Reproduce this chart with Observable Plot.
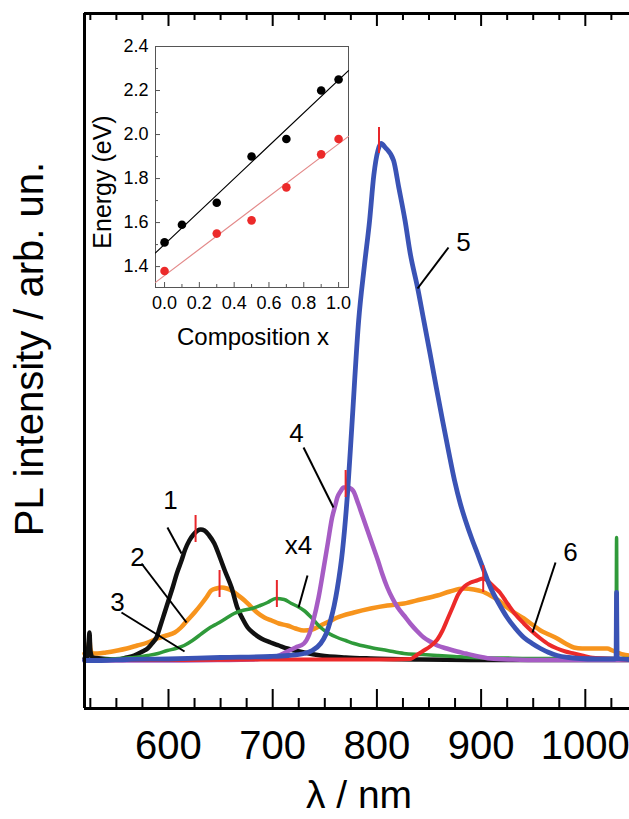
<!DOCTYPE html>
<html><head><meta charset="utf-8">
<script src="https://cdn.jsdelivr.net/npm/d3@7"></script>
<script src="https://cdn.jsdelivr.net/npm/@observablehq/plot@0.6"></script>
<style>
html,body{margin:0;padding:0;background:#fff;overflow:hidden}
#wrap{position:relative;width:629px;height:819px;overflow:hidden}
#wrap svg{position:absolute;left:0;top:0}
</style></head><body><div id="wrap"></div>
<script>
const FONT = "'Liberation Sans', Arial, Helvetica, sans-serif";

// ---- main chart: PL spectra, [wavelength nm, intensity arb. un.] ----
const spec1 = [[519.4,2],[522,2],[523.5,20],[524.2,28],[525,10],[527,3],[535,2],[551,1],[560,3],[567,5],[575,9],[580,12],[585,18],[588.5,23],[592,34],[596,47],[600,60],[604,73],[608,87],[612.5,100],[616,111],[620,120],[624,126],[628,130],[631,131],[634.5,130],[639,125],[644,117],[649,104],[654,90],[660.5,73],[666,53],[671,42],[676,33],[682,27],[689,22],[698,18],[706,15],[714,12],[730,8],[746,5],[770,3],[794,2],[842,1],[900,0.5],[1042.4,0.5]];
const spec2 = [[519.4,7],[522,8],[523.5,16],[524.2,20],[525,12],[527,7],[532,7],[540,8],[551,10],[560,12],[570,15],[580,18],[589,22],[598,25],[606,28],[612,33],[618,40],[625,48],[632,57],[637,64],[641,70],[646,72],[651,73],[656,72],[660.5,70],[667,65],[673,60],[679,54],[685,48],[692,43],[699,40],[706,37],[714,35],[722,32],[730,30],[738,31],[746,35],[754,39],[762,43],[778,48],[794,52],[810,55],[826,57],[842,61],[858,65],[870,69],[883,72],[893,71],[901,69],[909,65],[917,60],[925,53],[933,47],[941,42],[949,36],[957,30],[965,26],[973,22],[981,17],[989,13],[997,12],[1005,12],[1013,12],[1021,12],[1026,10],[1031,8],[1036,6],[1042.4,5]];
const spec3 = [[519.4,0],[530,0.5],[545,1.5],[560,2.5],[567,3],[580,5],[590,7],[599,10],[607,12],[615,15],[623,20],[632,27],[640,33],[647,37],[655,42],[663,47],[671,50],[680,52],[688,55],[695,58],[703,62],[711,61],[718,57],[724,54],[730,50],[738,42],[746,33],[754,27],[762,23],[770,20],[778,17],[794,13],[810,10],[826,7],[842,6],[858,5],[874,4],[890,3],[920,2.5],[960,2],[1000,2],[1028,2],[1029.5,2],[1030,123],[1030.5,2],[1042.4,2]];
const spec4 = [[519.4,0],[600,0],[650,0.5],[679,1],[690,2],[698,3],[706,5],[714,9],[722,13],[730,17],[735,26],[739,40],[744,63],[749,93],[753,118],[757,143],[760,155],[762,163],[765,169],[768,173],[772,173],[777,170],[782,157],[786,145],[791,130],[796,115],[801,100],[805,87],[810,73],[815,62],[820,53],[826,45],[832,37],[838,30],[845,23],[851,19],[858,15],[867,12],[877,9],[885,7],[893,5],[909,2],[930,1],[960,0.5],[1042.4,0.5]];
const spec5 = [[519.4,0],[535,0],[560,1],[600,1.5],[650,3],[698,4],[715,5],[730,7],[738,10],[746,17],[751,26],[755.5,40],[759,55],[762,72],[767,110],[772,170],[776,235],[782.5,340],[788,395],[793,440],[797,485],[801,510],[804,517],[808,513],[816,500],[821,473],[827,440],[832,407],[839,373],[845,340],[851,307],[857,273],[863,240],[869,208],[874.5,180],[880,157],[885,140],[891,122],[896.5,107],[903,89],[909,73],[917,57],[925,43],[933,32],[941,23],[949,17],[957,12],[965,8],[973,5],[984,3],[995,2],[1010,1.5],[1028,1.5],[1029.5,2],[1030,68],[1030.5,2],[1042.4,1]];
const spec6 = [[519.4,0.5],[600,0.5],[700,1],[800,1],[832,1.5],[839,6],[845,10],[851,14],[858,21],[863,30],[868,42],[873,54],[878,66],[884,74],[890,78],[896,80],[902,82],[906,80],[910,76],[914,72],[918,68],[922,62],[926,56],[933,46],[941,37],[949,29],[957,22],[965,16],[973,12],[981,9],[989,7],[997,5],[1005,3],[1021,2],[1042.4,1]];

const seriesIds    = ["1", "2", "3", "4", "5", "6"];
const seriesColors = ["#111111", "#f7941d", "#2f9a3a", "#a65cc4", "#3a53b5", "#ec2a2a"];

// peak markers: wavelength, low & high intensity of red tick
const peakLambda = [626, 649, 704, 770, 802, 902];
const peakLo     = [118, 63, 53, 163, 507, 68];
const peakHi     = [145, 90, 80, 190, 533, 95];

// curve labels and their leader lines (data coordinates)
const labelText   = ["1", "2", "3", "x4", "4", "5", "6"];
const labelLambda = [601.9, 570.2, 551, 724.8, 722.8, 883.1, 985.8];
const labelI      = [160, 103, 58, 115, 227, 418, 108];
const leadL1 = [599, 574.1, 554.9, 733.4, 729.6, 868.7, 971.4];
const leadI1 = [133, 97, 48, 85, 213, 413, 98];
const leadL2 = [612.5, 617.3, 615.4, 724.8, 758.3, 839, 949.3];
const leadI2 = [107, 38, 9, 53, 153, 372, 28];

const xTicks = [600, 700, 800, 900, 1000];
const xMinor = [525, 550, 575, 625, 650, 675, 725, 750, 775, 825, 850, 875, 925, 950, 975, 1025];

// ---- inset: energy vs composition ----
const compBlack = [0, 0.1, 0.3, 0.5, 0.7, 0.9, 1.0];
const enBlack   = [1.51, 1.59, 1.69, 1.90, 1.98, 2.20, 2.25];
const compRed   = [0, 0.3, 0.5, 0.7, 0.9, 1.0];
const enRed     = [1.38, 1.55, 1.61, 1.76, 1.91, 1.98];
const insetYTicks = [1.4, 1.6, 1.8, 2.0, 2.2, 2.4];
const insetYMinor = [1.5, 1.7, 1.9, 2.1, 2.3];
const insetXTicks = [0, 0.2, 0.4, 0.6, 0.8, 1.0];
const insetXMinor = [0.1, 0.3, 0.5, 0.7, 0.9];

// ---------- build ----------
const specs = [spec1, spec2, spec3, spec4, spec5, spec6];
const spectra = specs.map((pts, i) => pts.map(([l, v]) => ({series: seriesIds[i], lambda: l, I: v})));
const peaks = peakLambda.map((l, i) => ({lambda: l, lo: peakLo[i], hi: peakHi[i]}));
const labels = labelText.map((t, i) => ({t, lambda: labelLambda[i], I: labelI[i]}));
const leaders = leadL1.map((l, i) => ({l1: l, i1: leadI1[i], l2: leadL2[i], i2: leadI2[i]}));

const xDom = [519.4, 1042.4];
const yDom = [-48, 647];
const frameH = 695;
const drawOrder = [1, 0, 2, 3, 5, 4];
const widths = [4.5, 4.5, 3.5, 4.5, 4.8, 4];

const lineMarks = drawOrder.map(i => Plot.line(spectra[i], {
  x: "lambda", y: "I", stroke: seriesColors[i], strokeWidth: widths[i], curve: "monotone-x"
}));

const main = Plot.plot({
  width: 629, height: 819,
  marginLeft: 84, marginRight: 0, marginTop: 13, marginBottom: 111,
  x: {domain: xDom, axis: null},
  y: {domain: yDom, axis: null},
  style: {fontFamily: FONT, background: "white", color: "black"},
  marks: [
    ...lineMarks,
    Plot.ruleX(peaks, {x: "lambda", y1: "lo", y2: "hi", stroke: "#e8262a", strokeWidth: 2}),
    Plot.link(leaders, {x1: "l1", y1: "i1", x2: "l2", y2: "i2", stroke: "black", strokeWidth: 2}),
    Plot.text(labels, {x: "lambda", y: "I", text: "t", fontSize: 26, fill: "black"}),
    // inward ticks bottom & top
    Plot.ruleX(xTicks, {x: d => d, stroke: "black", strokeWidth: 2, insetTop: frameH - 19}),
    Plot.ruleX(xMinor, {x: d => d, stroke: "black", strokeWidth: 2, insetTop: frameH - 10}),
    Plot.ruleX(xTicks, {x: d => d, stroke: "black", strokeWidth: 2, insetBottom: frameH - 13}),
    Plot.ruleX(xMinor, {x: d => d, stroke: "black", strokeWidth: 2, insetBottom: frameH - 7}),
    // frame (left, top, bottom)
    Plot.ruleX([xDom[0]], {x: d => d, stroke: "black", strokeWidth: 3}),
    Plot.ruleY([yDom[0], yDom[1]], {y: d => d, stroke: "black", strokeWidth: 3}),
    Plot.axisX(xTicks, {tickSize: 0, tickPadding: 22, fontSize: 40, tickFormat: d => String(d), label: null}),
    Plot.text(["PL intensity / arb. un."], {text: d => d, frameAnchor: "left", textAnchor: "middle", lineAnchor: "middle", rotate: -90, dx: -54, dy: -12, fontSize: 40, fill: "black"}),
    Plot.text(["λ / nm"], {text: d => d, frameAnchor: "bottom", textAnchor: "middle", lineAnchor: "middle", dx: 2, dy: 87, fontSize: 39, fill: "black"})
  ]
});

// inset
const blackPts = compBlack.map((x, i) => ({x, y: enBlack[i]}));
const redPts = compRed.map((x, i) => ({x, y: enRed[i]}));
const ixDom = [-0.052, 1.057];
const iyDom = [1.305, 2.4];
function fitLine(pts) {
  const mx = d3.mean(pts, d => d.x), my = d3.mean(pts, d => d.y);
  const b = d3.sum(pts, d => (d.x - mx) * (d.y - my)) / d3.sum(pts, d => (d.x - mx) ** 2);
  return ixDom.map(x => ({x, y: my + b * (x - mx)}));
}
const iL = 155, iR = 348, iT = 46, iB = 287;
const iW = iR - iL, iH = iB - iT;
const inset = Plot.plot({
  width: 629, height: 400,
  marginLeft: iL, marginRight: 629 - iR, marginTop: iT, marginBottom: 400 - iB,
  x: {domain: ixDom, axis: null},
  y: {domain: iyDom, axis: null},
  style: {fontFamily: FONT, background: "transparent", color: "black"},
  marks: [
    Plot.frame({fill: "white", stroke: "#555", strokeWidth: 1}),
    Plot.line(fitLine(blackPts), {x: "x", y: "y", stroke: "black", strokeWidth: 1.2}),
    Plot.line(fitLine(redPts), {x: "x", y: "y", stroke: "#e38a8a", strokeWidth: 1.2}),
    Plot.dot(blackPts, {x: "x", y: "y", r: 4.3, fill: "black"}),
    Plot.dot(redPts, {x: "x", y: "y", r: 4.3, fill: "#ec2a2a"}),
    Plot.ruleY(insetYTicks, {y: d => d, stroke: "#555", insetRight: iW - 5}),
    Plot.ruleY(insetYMinor, {y: d => d, stroke: "#555", insetRight: iW - 3}),
    Plot.ruleX(insetXTicks, {x: d => d, stroke: "#555", insetTop: iH - 5}),
    Plot.ruleX(insetXMinor, {x: d => d, stroke: "#555", insetTop: iH - 3}),
    Plot.axisX(insetXTicks, {tickSize: 0, tickPadding: 9, fontSize: 18, tickFormat: d3.format(".1f"), label: null}),
    Plot.axisY(insetYTicks, {tickSize: 0, tickPadding: 7, fontSize: 18, tickFormat: d3.format(".1f"), label: null}),
    Plot.text(["Composition x"], {text: d => d, frameAnchor: "bottom", textAnchor: "middle", lineAnchor: "middle", dx: 1, dy: 50, fontSize: 24, fill: "black"}),
    Plot.text(["Energy (eV)"], {text: d => d, frameAnchor: "left", textAnchor: "middle", lineAnchor: "middle", rotate: -90, dx: -53, dy: 15, fontSize: 25, fill: "black"})
  ]
});

const wrap = document.getElementById("wrap");
wrap.appendChild(main);
wrap.appendChild(inset);
</script></body></html>
